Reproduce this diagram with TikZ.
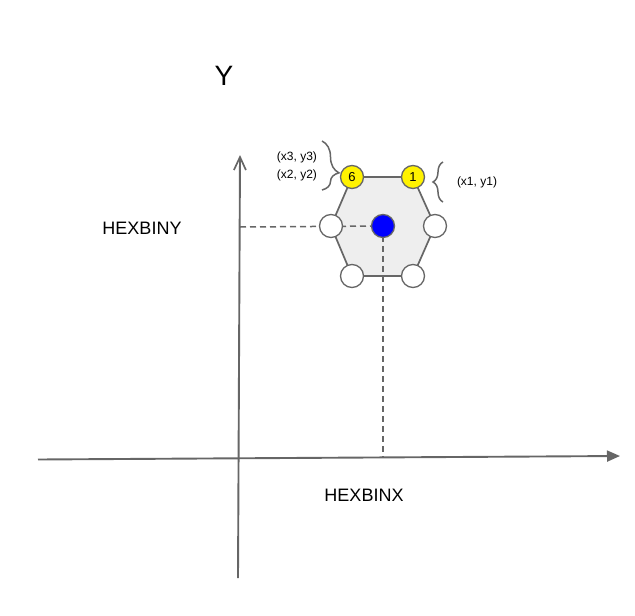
\documentclass[tikz,border=0pt]{standalone}
\usepackage{fontspec}
\setmainfont{Liberation Sans}
\usetikzlibrary{arrows.meta,decorations.pathreplacing}
\definecolor{axisgray}{HTML}{666666}
\definecolor{hexfill}{HTML}{EEEEEE}
\definecolor{hubblue}{HTML}{0000FF}
\begin{document}
\begin{tikzpicture}[x=1pt,y=-1pt,
  axis/.style={draw=axisgray, line width=1.9pt},
  guide/.style={draw=axisgray, line width=1.5pt, dash pattern=on 6pt off 4pt},
  vertex/.style={circle, draw=axisgray, line width=1.3pt, fill=white, minimum size=23pt, inner sep=0pt, font=\fontsize{13}{13}\selectfont},
  marked/.style={vertex, fill=yellow},
  hubdot/.style={circle, draw=axisgray, line width=1.3pt, fill=hubblue, minimum size=23pt, inner sep=0pt},
  bracestyle/.style={draw=axisgray, line width=1.5pt, decorate},
  lbl/.style={font=\fontsize{18}{20}\selectfont, inner sep=0pt},
  small/.style={font=\fontsize{12}{14}\selectfont, inner sep=0pt}]
\useasboundingbox (0,0) rectangle (635,616);
% coordinates
\coordinate (yb) at (238,578);
\coordinate (yt) at (240,155);
\coordinate (xl) at (38,459.5);
\coordinate (xr) at (620,456);
\coordinate (c1) at (413,177);
\coordinate (c6) at (352,177);
\coordinate (cl) at (331,226);
\coordinate (cr) at (435,226);
\coordinate (cbl) at (352,276);
\coordinate (cbr) at (413,276);
\coordinate (ch) at (383,226);
\coordinate (yh) at (240,227);
\coordinate (xh) at (383,457);
% axes
\draw[axis, -{Straight Barb[length=13pt,width=12pt,line width=1.7pt]}] (yb) -- (yt);
\draw[axis, -{Triangle[length=13pt,width=11pt]}, fill=axisgray] (xl) -- (xr);
% hexagon
\draw[draw=axisgray, line width=1.7pt, fill=hexfill] (c6) -- (c1) -- (cr) -- (cbr) -- (cbl) -- (cl) -- cycle;
% guides
\draw[guide] (yh) -- (ch);
\draw[guide] (ch) -- (xh);
% nodes
\node[marked] (n6) at (c6) {6};
\node[marked] (n1) at (c1) {1};
\node[vertex] (nl) at (cl) {};
\node[vertex] (nr) at (cr) {};
\node[vertex] (nbl) at (cbl) {};
\node[vertex] (nbr) at (cbr) {};
\node[hubdot] (hub) at (ch) {};
% braces
\draw[bracestyle, decoration={brace, amplitude=17pt, aspect=0.65}] (322,141) -- (322,190);
\draw[bracestyle, decoration={brace, amplitude=10pt, aspect=0.5}] (443,202) -- (443,162);
% labels
\node[small] (l3) at (297,157) {(x3, y3)};
\node[small] (l2) at (297,175) {(x2, y2)};
\node[small] (l1) at (477,182) {(x1, y1)};
\node[font=\fontsize{28}{30}\selectfont, inner sep=0pt] (ylab) at (224,76) {Y};
\node[lbl] (hy) at (142,228) {HEXBINY};
\node[lbl] (hx) at (364,495) {HEXBINX};
\end{tikzpicture}
\end{document}
